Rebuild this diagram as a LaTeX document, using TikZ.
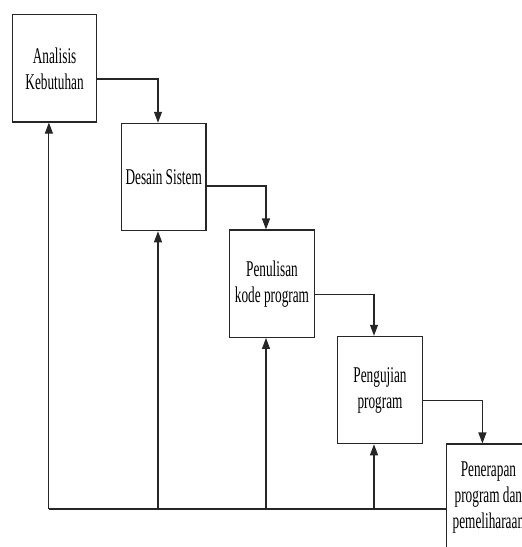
\documentclass[tikz,border=0pt]{standalone}
\usepackage{fontspec}
\setmainfont[FakeStretch=0.59]{Liberation Serif}
\usetikzlibrary{arrows.meta,calc}
\begin{document}
\begin{tikzpicture}[x=1pt,y=-1pt,
  stepbox/.style={draw=black!85,line width=1.1pt,fill=white,minimum width=84.6pt,minimum height=107.4pt,inner sep=0pt,align=center,font=\fontsize{22.5}{26}\selectfont},
  conn/.style={draw=black!85,line width=1.1pt},
  arr/.style={conn,-{Triangle[width=8pt,length=11pt]}}]
\useasboundingbox (0,0) rectangle (522,547);
\node[stepbox] (b1) at (54.6,68.3) {Analisis\\Kebutuhan};
\node[stepbox] (b2) at (163.7,177) {Desain Sistem};
\node[stepbox] (b3) at (272,283.7) {Penulisan\\kode program};
\node[stepbox] (b4) at (380,390) {Pengujian\\program};
\node[stepbox] (b5) at (488.4,497.7) {Penerapan\\program dan\\pemeliharaan};
\coordinate (c1) at ($(b1.south)+(-5.7,0)$);
\coordinate (c2) at ($(b2.south)+(-5.7,0)$);
\coordinate (c3) at ($(b3.south)+(-6,0)$);
\coordinate (c4) at ($(b4.south)+(-6,0)$);
\coordinate (c5) at ($(b5.south)+(-6,0)$);
\coordinate (bl) at (0,509);
% forward flow
\draw[arr] ($(b1.east)+(0,10.7)$) -| (c2 |- b2.north);
\draw[arr] ($(b2.east)+(0,9)$) -| (c3 |- b3.north);
\draw[arr] ($(b3.east)+(0,11)$) -| (c4 |- b4.north);
\draw[arr] ($(b4.east)+(0,10.7)$) -| (c5 |- b5.north);
% feedback
\draw[conn] (bl -| b5.west) -- (bl -| c1);
\draw[arr] (bl -| c1) -- (c1);
\draw[arr] (bl -| c2) -- (c2);
\draw[arr] (bl -| c3) -- (c3);
\draw[arr] (bl -| c4) -- (c4);
\end{tikzpicture}
\end{document}
